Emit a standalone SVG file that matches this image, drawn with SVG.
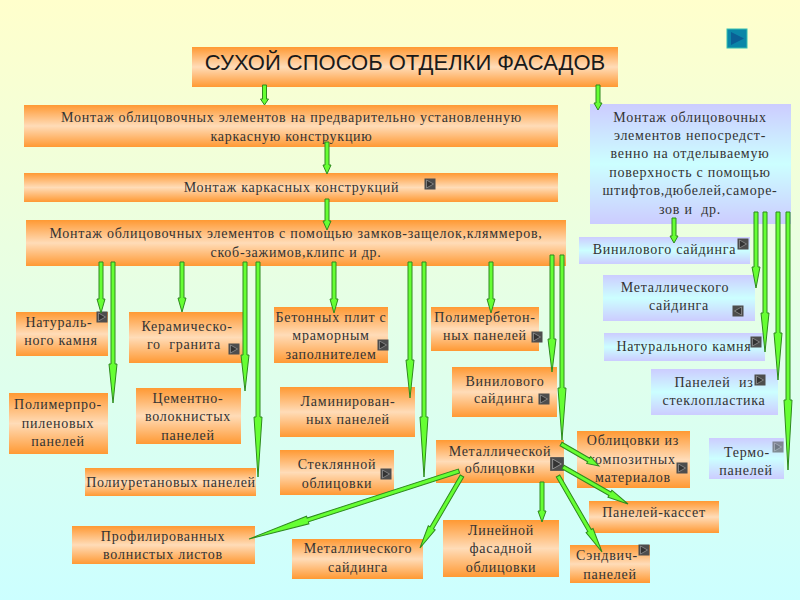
<svg xmlns="http://www.w3.org/2000/svg" width="800" height="600" viewBox="0 0 800 600">
<style>
.o{fill:url(#og)}
.b{fill:url(#bg)}
text{font-family:"Liberation Serif","DejaVu Serif",serif;font-size:14px;letter-spacing:.75px;fill:#333;text-anchor:middle}
.t{font-family:"Liberation Sans",Arial,sans-serif;font-size:22px;letter-spacing:0;fill:#1a1a1a}
#connectors polygon{fill:#66ff33;stroke:#2e8a1e;stroke-width:1;stroke-linejoin:miter}
</style>
<defs>
<linearGradient id="page" x1="0" y1="0" x2="0" y2="1"><stop offset="0" stop-color="#ffffcc"/><stop offset="1" stop-color="#ccffff"/></linearGradient>
<linearGradient id="og" x1="0" y1="0" x2="0" y2="1"><stop offset="0" stop-color="#ff9933"/><stop offset=".5" stop-color="#ffdcb8"/><stop offset="1" stop-color="#ff9933"/></linearGradient>
<linearGradient id="bg" x1="0" y1="0" x2="0" y2="1"><stop offset="0" stop-color="#ccccff"/><stop offset=".5" stop-color="#ccffff"/><stop offset="1" stop-color="#ccccff"/></linearGradient>
<g id="btn"><rect x="-5.500" y="-5.500" width="11" height="11" fill="#4d4d4d"/><path d="M-3.500-4 3.500 0-3.500 4Z" fill="#333" stroke="#aaa" stroke-width=".6"/></g>
<g id="btnl"><rect x="-5.500" y="-5.500" width="11" height="11" fill="#4d4d4d"/><path d="M3.500-4-3.500 0 3.500 4Z" fill="#333" stroke="#aaa" stroke-width=".6"/></g>
</defs>
<rect width="800" height="600" fill="url(#page)"/>
<g id="nav"><rect x="727" y="29" width="20" height="19" fill="#0a86a8" stroke="#35c0b0" stroke-width="1"/><path d="M731 32 744 38.500 731 45Z" fill="#0a5f95"/></g>

<g id="title"><rect class="o" x="192" y="47" width="426" height="40"/><text class="t" x="405" y="70">СУХОЙ СПОСОБ ОТДЕЛКИ ФАСАДОВ</text></g>
<g id="n-frame"><rect class="o" x="24" y="105" width="534" height="42"/><text x="291.500" y="122">Монтаж облицовочных элементов на предварительно установленную</text><text x="291.500" y="141">каркасную конструкцию</text></g>
<g id="n-mount"><rect class="o" x="24" y="173" width="534" height="29"/><text x="291.500" y="192">Монтаж каркасных конструкций</text><use href="#btn" x="430" y="184"/></g>
<g id="n-locks"><rect class="o" x="26" y="220" width="540" height="46"/><text x="296" y="238">Монтаж облицовочных элементов с помощью замков-защелок,кляммеров,</text><text x="296" y="257">скоб-зажимов,клипс и др.</text></g>
<g id="n-direct"><rect class="b" x="590" y="104" width="201" height="120"/><text x="690" y="122">Монтаж облицовочных</text><text x="690" y="140">элементов непосредст-</text><text x="690" y="158">венно на отделываемую</text><text x="690" y="177">поверхность с помощью</text><text x="690" y="195">штифтов,дюбелей,саморе-</text><text x="690" y="214" xml:space="preserve">зов и  др.</text></g>
<g id="n-vinyl-b"><rect class="b" x="579" y="237" width="171" height="27"/><text x="664.500" y="254">Винилового сайдинга</text><use href="#btn" x="743" y="244"/></g>
<g id="n-metal-b"><rect class="b" x="603" y="275" width="152" height="46"/><text x="675" y="292">Металлического</text><text x="679" y="310">сайдинга</text><use href="#btnl" x="738" y="311"/></g>
<g id="n-stone-b"><rect class="b" x="604" y="333" width="161" height="28"/><text x="684" y="351">Натурального камня</text><use href="#btn" x="756" y="342"/></g>
<g id="n-glass-b"><rect class="b" x="651" y="369" width="127" height="46"/><text x="714" y="387" xml:space="preserve">Панелей  из</text><text x="714" y="405">стеклопластика</text><use href="#btn" x="760" y="380"/></g>
<g id="n-thermo"><rect class="b" x="709" y="438" width="75" height="41"/><text x="747" y="457">Термо-</text><text x="746" y="475">панелей</text><g opacity=".6"><use href="#btn" x="778" y="447"/></g></g>

<g id="n-stone"><rect class="o" x="16" y="312" width="92" height="44"/><text x="59" y="327">Натураль-</text><text x="61" y="345">ного камня</text><use href="#btn" x="102" y="317"/></g>
<g id="n-granite"><rect class="o" x="129" y="312" width="115" height="51"/><text x="187" y="331">Керамическо-</text><text x="184" y="349" xml:space="preserve">го  гранита</text><use href="#btn" x="234" y="349"/></g>
<g id="n-concrete"><rect class="o" x="274" y="307" width="114" height="56"/><text x="331" y="322">Бетонных плит с</text><text x="331" y="340">мраморным</text><text x="331" y="359">заполнителем</text><use href="#btn" x="383" y="345"/></g>
<g id="n-polycon"><rect class="o" x="431" y="307" width="108" height="44"/><text x="485" y="322">Полимербетон-</text><text x="485" y="340">ных панелей</text><use href="#btn" x="537" y="337"/></g>
<g id="n-polyprop"><rect class="o" x="9" y="393" width="99" height="61"/><text x="58" y="409">Полимерпро-</text><text x="58" y="428">пиленовых</text><text x="58" y="446">панелей</text></g>
<g id="n-cement"><rect class="o" x="136" y="388" width="105" height="56"/><text x="188" y="403">Цементно-</text><text x="188" y="421">волокнистых</text><text x="188" y="440">панелей</text></g>
<g id="n-laminate"><rect class="o" x="280" y="387" width="135" height="50"/><text x="348" y="406">Ламинирован-</text><text x="348" y="424">ных панелей</text></g>
<g id="n-glass"><rect class="o" x="280" y="450" width="114" height="45"/><text x="337" y="469">Стеклянной</text><text x="337" y="488">облицовки</text><use href="#btn" x="386" y="474"/></g>
<g id="n-urethane"><rect class="o" x="85" y="468" width="171" height="28"/><text x="171" y="487">Полиуретановых панелей</text></g>
<g id="n-vinyl-o"><rect class="o" x="452" y="367" width="105" height="50"/><text x="505" y="386">Винилового</text><text x="504" y="403">сайдинга</text><use href="#btn" x="544" y="399"/></g>
<g id="n-metal"><rect class="o" x="436" y="440" width="128" height="43"/><text x="500" y="456">Металлической</text><text x="500" y="473">облицовки</text><use href="#btn" transform="translate(557 464) scale(1.25)"/></g>
<g id="n-composite"><rect class="o" x="577" y="431" width="113" height="57"/><text x="633" y="445">Облицовки из</text><text x="632" y="464">композитных</text><text x="633" y="482">материалов</text><use href="#btn" x="682" y="468"/></g>
<g id="n-cassette"><rect class="o" x="589" y="501" width="130" height="32"/><text x="654" y="517">Панелей-кассет</text></g>
<g id="n-sandwich"><rect class="o" x="570" y="545" width="80" height="38"/><text x="607" y="560">Сэндвич-</text><text x="610" y="579">панелей</text><use href="#btn" x="644" y="550"/></g>
<g id="n-linear"><rect class="o" x="443" y="520" width="116" height="57"/><text x="501" y="535">Линейной</text><text x="501" y="553">фасадной</text><text x="501" y="572">облицовки</text></g>
<g id="n-siding"><rect class="o" x="292" y="539" width="131" height="40"/><text x="358" y="553">Металлического</text><text x="358" y="572">сайдинга</text></g>
<g id="n-profiled"><rect class="o" x="72" y="526" width="183" height="38"/><text x="163" y="541">Профилированных</text><text x="163" y="559">волнистых листов</text></g>

<g id="connectors">
<polygon points="262.500,85 266.500,85 266.500,99 268.500,99 264.500,105 260.500,99 262.500,99"/>
<polygon points="596,85 600,85 600,103 602,103 598,110 594,103 596,103"/>
<polygon points="325,142 329,142 329,165 331,165 327,174 323,165 325,165"/>
<polygon points="325,199 329,199 329,221 331,221 327,230 323,221 325,221"/>
<polygon points="99,262 103,262 103,299 105,299 101,313 97,299 99,299"/>
<polygon points="111,262 115,262 115,364 117,364 113,403 109,364 111,364"/>
<polygon points="180,262 184,262 184,298 186,298 182,312 178,298 180,298"/>
<polygon points="243,262 247,262 247,355 249,355 245,391 241,355 243,355"/>
<polygon points="256,262 260,262 260,417 262,417 258,477 254,417 256,417"/>
<polygon points="332,262 336,262 336,299 338,299 334,313 330,299 332,299"/>
<polygon points="408,262 412,262 412,360 414,360 410,398 406,360 408,360"/>
<polygon points="422,262 426,262 426,417 428,417 424,477 420,417 422,417"/>
<polygon points="489,262 493,262 493,299 495,299 491,313 487,299 489,299"/>
<polygon points="550,255 554,255 554,339 556,339 552,372 548,339 550,339"/>
<polygon points="560,255 564,255 564,388 566,388 562,440 558,388 560,388"/>
<polygon points="672,218 676,218 676,236 678,236 674,243 670,236 672,236"/>
<polygon points="754,212 758,212 758,267 760,267 756,288 752,267 754,267"/>
<polygon points="763,212 767,212 767,313 769,313 765,352 761,313 763,313"/>
<polygon points="776,212 780,212 780,333 782,333 778,380 774,333 776,333"/>
<polygon points="786,212 790,212 790,400 792,400 788,470 784,400 786,400"/>
<polygon points="540,482 544,482 544,511 546,511 542,522 538,511 540,511"/>
<polygon transform="translate(459 471) rotate(162.060)" points="0,-2 159,-2 159,-4 220.700,0 159,4 159,2 0,2"/>
<polygon transform="translate(462 476) rotate(120.260)" points="0,-2 60,-2 60,-4 83.400,0 60,4 60,2 0,2"/>
<polygon transform="translate(558 476) rotate(59.930)" points="0,-2 63,-2 63,-4 87.800,0 63,4 63,2 0,2"/>
<polygon transform="translate(563 467) rotate(29.650)" points="0,-2 54,-2 54,-4 74.800,0 54,4 54,2 0,2"/>
<polygon transform="translate(561 444) rotate(30.070)" points="0,-2 32,-2 32,-4 43.900,0 32,4 32,2 0,2"/>
</g>
</svg>
